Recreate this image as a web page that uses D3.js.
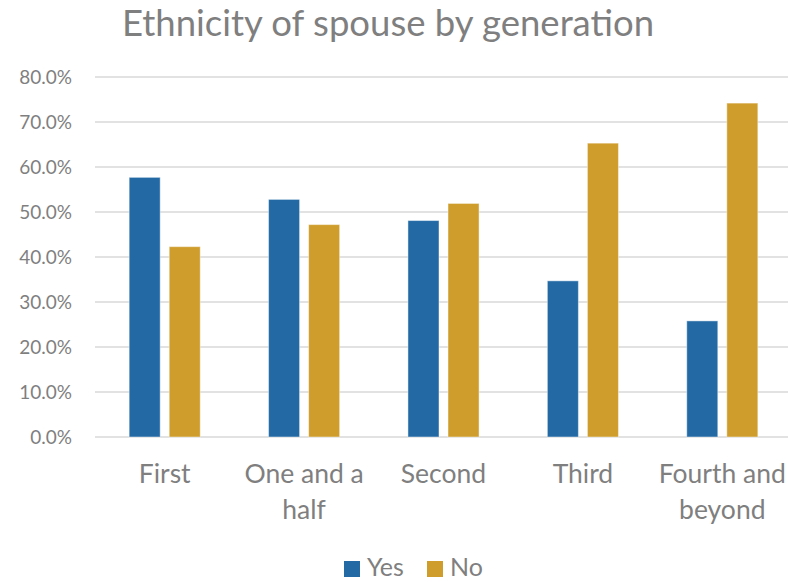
<!DOCTYPE html>
<html>
<head>
<meta charset="utf-8">
<script src="https://cdn.jsdelivr.net/npm/d3@7"></script>
<style>
  html, body { margin: 0; padding: 0; background: #fff; }
  svg { display: block; font-family: Lato, "Open Sans", sans-serif; }
</style>
</head>
<body>
<svg id="chart" width="788" height="582"></svg>
<script>
const categories = [["First"], ["One and a", "half"], ["Second"], ["Third"], ["Fourth and", "beyond"]];
const categoryKeys = ["First", "One and a half", "Second", "Third", "Fourth and beyond"];
const seriesNames = ["Yes", "No"];
const yesValues = [57.7, 52.8, 48.1, 34.7, 25.8];
const noValues = [42.3, 47.2, 51.9, 65.3, 74.2];
const yTicks = [0, 10, 20, 30, 40, 50, 60, 70, 80];
const colors = ["#236AA5", "#CF9D2C"];
const title = "Ethnicity of spouse by generation";

const svg = d3.select("#chart");
const textColor = "#7f7f7f";
const margin = {left: 95, right: -4, top: 77, bottom: 145};
const W = 788, H = 582;

const x0 = d3.scaleBand().domain(categoryKeys).range([margin.left, W - margin.right]).paddingInner(0.49).paddingOuter(0.245);
const x1 = d3.scaleBand().domain(seriesNames).range([0, x0.bandwidth()]).paddingInner(0.225);
const y = d3.scaleLinear().domain([0, 80]).range([H - margin.bottom, margin.top]);

// gridlines
svg.append("g").selectAll("line").data(yTicks).join("line")
  .attr("x1", margin.left).attr("x2", W)
  .attr("y1", d => y(d)).attr("y2", d => y(d))
  .attr("stroke", "#d9d9d9").attr("stroke-width", 1.3);

// y labels
const yAxis = d3.axisLeft(y).tickValues(yTicks).tickSize(0).tickPadding(0).tickFormat(d => d.toFixed(1) + "%");
const ya = svg.append("g").attr("transform", `translate(72,0)`).call(yAxis);
ya.select(".domain").remove();
ya.selectAll("text").attr("fill", textColor).style("font-size", "19px").style("font-family", "Lato, sans-serif").attr("dy", "0.36em");

// bars
const data = categoryKeys.map((c, i) => ({cat: c, vals: [yesValues[i], noValues[i]]}));
const groups = svg.append("g").selectAll("g").data(data).join("g")
  .attr("transform", d => `translate(${x0(d.cat)},0)`);
groups.selectAll("rect").data(d => d.vals.map((v, j) => ({name: seriesNames[j], v, j}))).join("rect")
  .attr("x", d => x1(d.name))
  .attr("width", x1.bandwidth())
  .attr("y", d => y(d.v))
  .attr("height", d => y(0) - y(d.v))
  .attr("fill", d => colors[d.j])
  .attr("stroke", "rgba(255,255,255,0.45)").attr("stroke-width", 1);

// category labels
const xl = svg.append("g");
categories.forEach((lines, i) => {
  const cx = x0(categoryKeys[i]) + x0.bandwidth() / 2;
  const t = xl.append("text").attr("text-anchor", "middle").attr("fill", textColor).style("font-size", "26.5px");
  lines.forEach((ln, k) => {
    t.append("tspan").attr("x", cx).attr("y", 483 + k * 36).text(ln);
  });
});

// title
svg.append("text").attr("x", 388).attr("y", 36).attr("text-anchor", "middle")
  .attr("fill", textColor).style("font-size", "36.5px").text(title);

// legend
const legend = svg.append("g");
const legendX = [344, 427];
seriesNames.forEach((s, i) => {
  legend.append("rect").attr("x", legendX[i]).attr("y", 561).attr("width", 16).attr("height", 16).attr("fill", colors[i]);
  legend.append("text").attr("x", legendX[i] + 23).attr("y", 576).attr("fill", textColor).style("font-size", "25px").text(s);
});
</script>
</body>
</html>
